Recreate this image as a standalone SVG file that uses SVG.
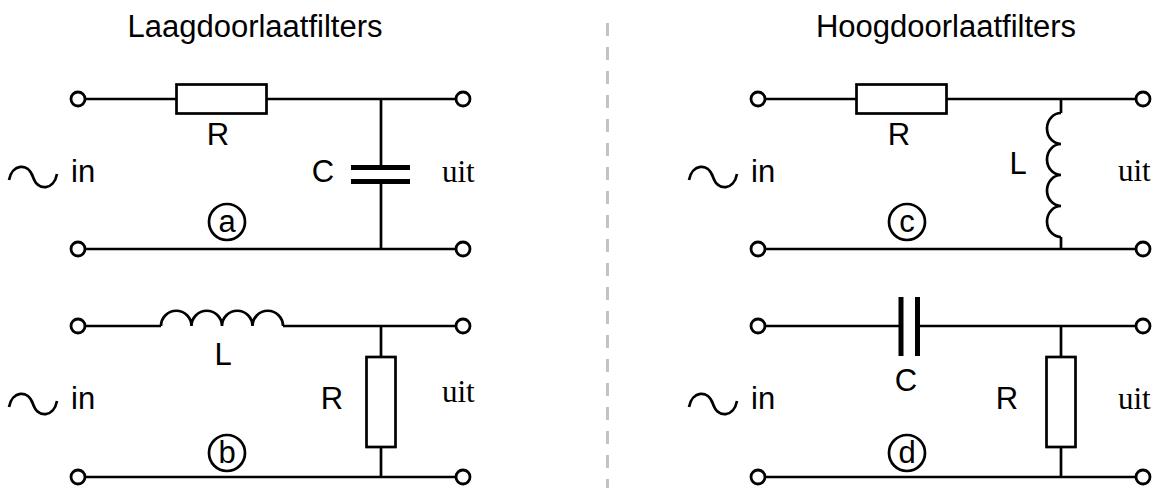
<svg xmlns="http://www.w3.org/2000/svg" width="1159" height="488" viewBox="0 0 1159 488">
<style>
.w{stroke:#000;stroke-width:2.7;fill:none;stroke-linecap:butt}
.t{fill:#fff;stroke:#000;stroke-width:2.8}
.plate{stroke:#000;stroke-width:5;fill:none}
.lbl{font-family:"Liberation Sans",Arial,sans-serif;font-size:31px;fill:#000}
.ser{font-family:"Liberation Serif","Times New Roman",serif;font-size:31px;fill:#000}
.ttl{font-family:"Liberation Sans",Arial,sans-serif;font-size:31px;fill:#000;text-anchor:middle}
.mid{text-anchor:middle}
</style>
<rect width="1159" height="488" fill="#fff"/>
<line x1="607.5" y1="23" x2="607.5" y2="488" stroke="#c3c3c3" stroke-width="3" stroke-dasharray="13 11"/>
<text class="ttl" x="255" y="37">Laagdoorlaatfilters</text>
<text class="ttl" x="946" y="37">Hoogdoorlaatfilters</text>

<g id="connectors">
<path class="w" d="M78,99 H176.5 M266.5,99 H463 M78,249 H463 M381,99 V167.5 M381,181.5 V249"/>
<path class="w" d="M78,326 H161 M283,326 H463 M78,477 H463 M381,326 V357 M381,447 V477"/>
<path class="w" d="M758,99 H856.5 M946.5,99 H1143 M758,249 H1143 M1061,99 V113 M1061,237 V249"/>
<path class="w" d="M758,326 H901 M917.5,326 H1143 M758,477 H1143 M1061,326 V357 M1061,447 V477"/>
</g>

<g id="circuit-a">
<g id="a-R"><rect class="w" x="176.5" y="84.5" width="90" height="29"/><text class="lbl mid" x="218" y="145">R</text></g>
<g id="a-C"><path class="plate" d="M351,167.5 H410 M351,181.5 H410"/><text class="lbl mid" x="323" y="182">C</text></g>
<g id="a-in"><path class="w" stroke-width="3.2" d="M9,180 C12,164 28,162 33,177 C38,192 54,190 57,174"/><text class="lbl" x="71" y="182">in</text></g>
<text class="ser" x="442" y="182">uit</text>
<g id="a-tag"><circle class="w" cx="227" cy="222" r="18"/><text class="lbl mid" x="227" y="232">a</text></g>
<circle class="t" cx="78" cy="99" r="7"/><circle class="t" cx="463" cy="99" r="7"/>
<circle class="t" cx="78" cy="249" r="7"/><circle class="t" cx="463" cy="249" r="7"/>
</g>

<g id="circuit-b">
<g id="b-L"><path class="w" d="M161,326 A15.25,15.25 0 0 1 191.5,326 A15.25,15.25 0 0 1 222,326 A15.25,15.25 0 0 1 252.5,326 A15.25,15.25 0 0 1 283,326"/><text class="lbl mid" x="223" y="365">L</text></g>
<g id="b-R"><rect class="w" x="366.5" y="357" width="29" height="90"/><text class="lbl mid" x="332" y="409">R</text></g>
<g id="b-in"><path class="w" stroke-width="3.2" d="M9,407 C12,391 28,389 33,404 C38,419 54,417 57,401"/><text class="lbl" x="71" y="409">in</text></g>
<text class="ser" x="442" y="402">uit</text>
<g id="b-tag"><circle class="w" cx="227" cy="453" r="18"/><text class="lbl mid" x="227" y="463">b</text></g>
<circle class="t" cx="78" cy="326" r="7"/><circle class="t" cx="463" cy="326" r="7"/>
<circle class="t" cx="78" cy="477" r="7"/><circle class="t" cx="463" cy="477" r="7"/>
</g>

<g id="circuit-c">
<g id="c-R"><rect class="w" x="856.5" y="84.5" width="90" height="29"/><text class="lbl mid" x="899" y="145">R</text></g>
<g id="c-L"><path class="w" d="M1061,113 A14,15.5 0 0 0 1061,144 A14,15.5 0 0 0 1061,175 A14,15.5 0 0 0 1061,206 A14,15.5 0 0 0 1061,237"/><text class="lbl mid" x="1018" y="174">L</text></g>
<g id="c-in"><path class="w" stroke-width="3.2" d="M689,180 C692,164 708,162 713,177 C718,192 734,190 737,174"/><text class="lbl" x="751" y="182">in</text></g>
<text class="ser" x="1118" y="181">uit</text>
<g id="c-tag"><circle class="w" cx="907" cy="222" r="18"/><text class="lbl mid" x="907" y="232">c</text></g>
<circle class="t" cx="758" cy="99" r="7"/><circle class="t" cx="1143" cy="99" r="7"/>
<circle class="t" cx="758" cy="249" r="7"/><circle class="t" cx="1143" cy="249" r="7"/>
</g>

<g id="circuit-d">
<g id="d-C"><path class="plate" d="M901,297 V356 M917.5,297 V356"/><text class="lbl mid" x="906" y="391">C</text></g>
<g id="d-R"><rect class="w" x="1046.5" y="357" width="29" height="90"/><text class="lbl mid" x="1007" y="409">R</text></g>
<g id="d-in"><path class="w" stroke-width="3.2" d="M689,407 C692,391 708,389 713,404 C718,419 734,417 737,401"/><text class="lbl" x="751" y="409">in</text></g>
<text class="ser" x="1118" y="409">uit</text>
<g id="d-tag"><circle class="w" cx="907" cy="453" r="18"/><text class="lbl mid" x="907" y="463">d</text></g>
<circle class="t" cx="758" cy="326" r="7"/><circle class="t" cx="1143" cy="326" r="7"/>
<circle class="t" cx="758" cy="477" r="7"/><circle class="t" cx="1143" cy="477" r="7"/>
</g>
</svg>
